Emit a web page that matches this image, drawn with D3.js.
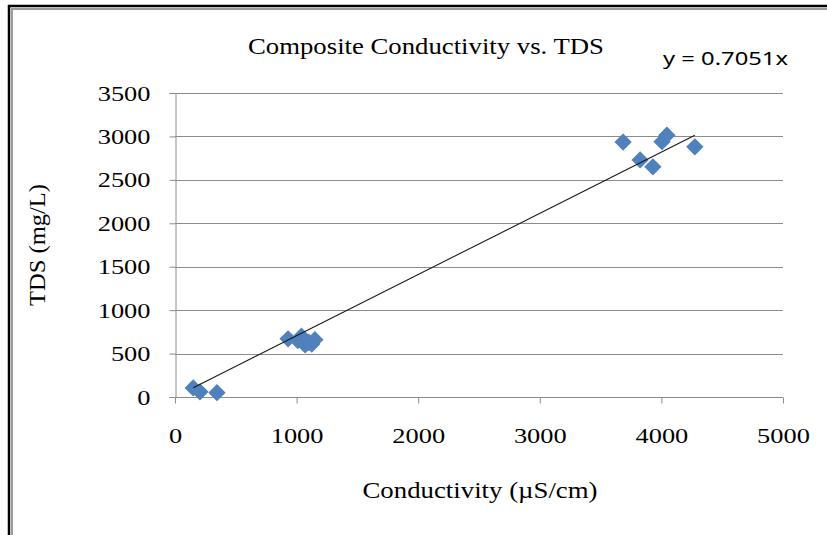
<!DOCTYPE html>
<html>
<head>
<meta charset="utf-8">
<script src="https://cdn.jsdelivr.net/npm/d3@7"></script>
<style>
  body { margin: 0; background: #fff; }
  svg { display: block; }
</style>
</head>
<body>
<div id="plot"></div>
<script>
// conductivity (uS/cm) and TDS (mg/L)
const conductivity = [150, 205, 345, 930, 1010, 1040, 1070, 1100, 1125, 1150, 3685, 3825, 3930, 4005, 4045, 4275];
const tds = [105, 60, 50, 670, 650, 700, 600, 630, 610, 660, 2935, 2730, 2650, 2940, 3015, 2880];
const slope = 0.7051;
const xTicks = [0, 1000, 2000, 3000, 4000, 5000];
const yTicks = [0, 500, 1000, 1500, 2000, 2500, 3000, 3500];

const points = conductivity.map((c, i) => ({ x: c, y: tds[i] }));

let width = 827,
    height = 535;

let margin = { top: 93, bottom: 138, left: 175, right: 44 };

let svg = d3.select('#plot')
  .append('svg')
    .attr('width', width)
    .attr('height', height);

// chart frame (double line on top and left)
svg.append('line').attr('x1', 8).attr('x2', width).attr('y1', 6).attr('y2', 6)
  .attr('stroke', '#000').attr('stroke-width', 2.5);
svg.append('line').attr('x1', 9).attr('x2', 9).attr('y1', 5).attr('y2', height)
  .attr('stroke', '#000').attr('stroke-width', 2.5);
svg.append('line').attr('x1', 11).attr('x2', width).attr('y1', 9).attr('y2', 9)
  .attr('stroke', '#9a9a9a').attr('stroke-width', 2);
svg.append('line').attr('x1', 12).attr('x2', 12).attr('y1', 8).attr('y2', height)
  .attr('stroke', '#9a9a9a').attr('stroke-width', 2);

let xScale = d3.scaleLinear()
  .domain([0, 5000])
  .range([margin.left, width - margin.right]);

let yScale = d3.scaleLinear()
  .domain([0, 3500])
  .range([height - margin.bottom, margin.top]);

// gridlines
svg.append('g')
  .selectAll('line')
  .data(yTicks.filter(d => d > 0))
  .enter()
  .append('line')
    .attr('x1', xScale(0))
    .attr('x2', xScale(5000))
    .attr('y1', d => Math.round(yScale(d)) + 0.5)
    .attr('y2', d => Math.round(yScale(d)) + 0.5)
    .attr('stroke', '#8c8c8c')
    .attr('stroke-width', 1);

let yAxis = svg.append('g')
  .attr('transform', `translate(${Math.round(xScale(0)) + 0.5},0)`)
  .call(d3.axisLeft(yScale).tickValues(yTicks).tickSize(6).tickPadding(19).tickFormat(d3.format('d')));

let xAxis = svg.append('g')
  .attr('transform', `translate(0,${Math.round(yScale(0)) + 0.5})`)
  .call(d3.axisBottom(xScale).tickValues(xTicks).tickSize(6).tickPadding(24).tickFormat(d3.format('d')));

[xAxis, yAxis].forEach(ax => {
  ax.select('.domain').attr('stroke', '#8c8c8c');
  ax.selectAll('.tick line').attr('stroke', '#8c8c8c');
  ax.selectAll('.tick text')
    .attr('fill', '#000')
    .attr('font-family', 'Liberation Serif')
    .attr('font-size', '22px')
    .attr('textLength', d => String(d).length * 13.2)
    .attr('lengthAdjust', 'spacingAndGlyphs');
});
xAxis.select('.domain').attr('d', `M${xScale(0)},0H${xScale(5000)}`);

// trendline through origin, spanning the data
let xExt = d3.extent(conductivity);

// diamond markers
let diamond = d3.symbol().type(d3.symbolSquare).size(150);
svg.append('g')
  .selectAll('path')
  .data(points)
  .enter()
  .append('path')
    .attr('d', diamond)
    .attr('transform', d => `translate(${xScale(d.x)},${yScale(d.y)}) rotate(45)`)
    .attr('fill', '#4f81bd');

svg.append('line')
  .attr('x1', xScale(xExt[0]))
  .attr('y1', yScale(xExt[0] * slope))
  .attr('x2', xScale(xExt[1]))
  .attr('y2', yScale(xExt[1] * slope))
  .attr('stroke', '#1a1a1a')
  .attr('stroke-width', 1.1);

svg.append('text')
  .attr('x', 426)
  .attr('y', 54)
  .attr('text-anchor', 'middle')
  .attr('font-family', 'Liberation Serif')
  .attr('font-size', '23px')
  .attr('textLength', 356)
  .attr('lengthAdjust', 'spacingAndGlyphs')
  .text('Composite Conductivity vs. TDS');

svg.append('text')
  .attr('x', 663)
  .attr('y', 65)
  .attr('font-family', 'Noto Sans')
  .attr('font-size', '18px')
  .attr('textLength', 125)
  .attr('lengthAdjust', 'spacingAndGlyphs')
  .text('y = 0.7051x');

svg.append('text')
  .attr('x', 480)
  .attr('y', 498)
  .attr('text-anchor', 'middle')
  .attr('font-family', 'Liberation Serif')
  .attr('font-size', '24px')
  .attr('textLength', 235)
  .attr('lengthAdjust', 'spacingAndGlyphs')
  .text('Conductivity (µS/cm)');

svg.append('text')
  .attr('transform', `translate(45,245) rotate(-90)`)
  .attr('text-anchor', 'middle')
  .attr('font-family', 'Liberation Serif')
  .attr('font-size', '24px')
  .attr('textLength', 122)
  .attr('lengthAdjust', 'spacingAndGlyphs')
  .text('TDS (mg/L)');
</script>
</body>
</html>
